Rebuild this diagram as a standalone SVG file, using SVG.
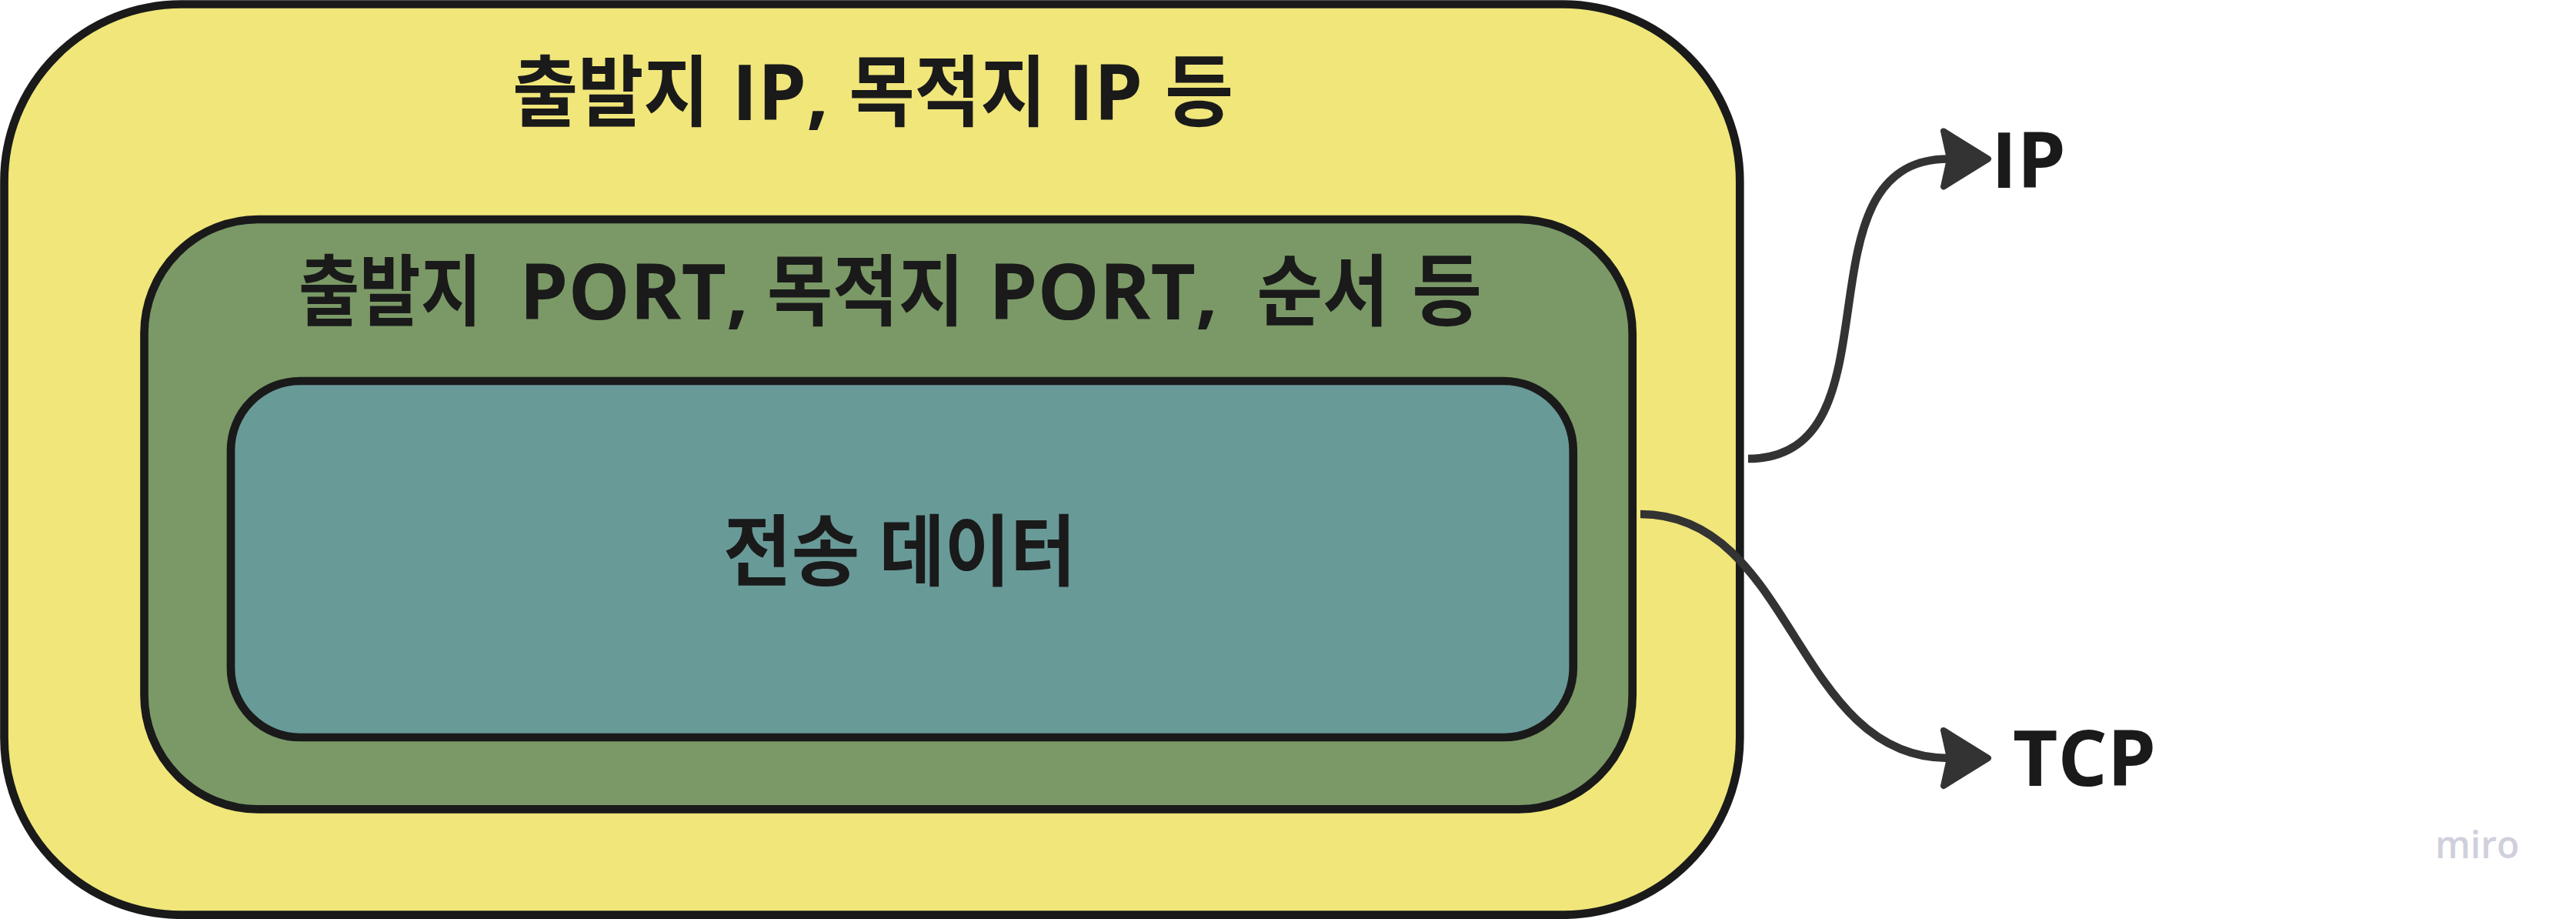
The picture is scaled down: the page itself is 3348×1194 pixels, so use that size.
<svg xmlns="http://www.w3.org/2000/svg" width="3348" height="1194" viewBox="0 0 3348 1194">
<defs>
<style>
.box{stroke:#1a1a1a;stroke-width:10.7}
.t{font-family:'Open Sans','Noto Sans CJK KR',sans-serif;font-weight:700;font-size:101px;fill:#1a1a1a}
.conn{fill:none;stroke:#333333;stroke-width:10.7}
.wm{font-family:'Open Sans','Noto Sans',sans-serif;font-weight:600;font-size:48px;fill:#d0cfdc}
</style>
<marker id="ah" markerUnits="userSpaceOnUse" orient="auto" overflow="visible" refX="0" refY="0" markerWidth="1" markerHeight="1">
<path d="M-6,-36 L52,0 L-6,36 L2,0 Z" fill="#333333" stroke="#333333" stroke-width="8" stroke-linejoin="round"/>
</marker>
</defs>
<g id="node-ip-header">
<rect class="box" x="5.5" y="5.5" width="2255.8" height="1183.2" rx="230" fill="#f0e67a"/>
<text class="t" y="156"><tspan x="666" textLength="255.5" lengthAdjust="spacingAndGlyphs">출발지</tspan> <tspan x="951.3">IP,</tspan> <tspan x="1103.5" textLength="256" lengthAdjust="spacingAndGlyphs">목적지</tspan> <tspan x="1388.3">IP</tspan> <tspan x="1514" textLength="89" lengthAdjust="spacingAndGlyphs">등</tspan></text>
</g>
<g id="node-tcp-header">
<rect class="box" x="187.5" y="285" width="1934.2" height="766.3" rx="148" fill="#7a9966"/>
<text class="t" y="415"><tspan x="388" textLength="238" lengthAdjust="spacingAndGlyphs">출발지</tspan> <tspan x="675">PORT,</tspan> <tspan x="997" textLength="256" lengthAdjust="spacingAndGlyphs">목적지</tspan> <tspan x="1285">PORT,</tspan> <tspan x="1633.6" textLength="171.4" lengthAdjust="spacingAndGlyphs">순서</tspan> <tspan x="1835" textLength="91" lengthAdjust="spacingAndGlyphs">등</tspan></text>
</g>
<g id="node-data">
<rect class="box" x="300" y="495" width="1744.7" height="463" rx="90" fill="#689a98"/>
<text class="t" y="752.5"><tspan x="940" textLength="177.3" lengthAdjust="spacingAndGlyphs">전송</tspan> <tspan x="1142.7" textLength="255.3" lengthAdjust="spacingAndGlyphs">데이터</tspan></text>
</g>
<g id="node-ip-label">
<text class="t" x="2588" y="244">IP</text>
</g>
<g id="node-tcp-label">
<text class="t" x="2616" y="1021">TCP</text>
</g>
<g id="connectors">
<path class="conn" d="M2272,596 C2477,596 2327,206.5 2532,206.5" marker-end="url(#ah)"/>
<path class="conn" d="M2132,668 C2332,668 2332,985 2532,985" marker-end="url(#ah)"/>
</g>
<g id="watermark">
<text class="wm" x="3165" y="1115">miro</text>
</g>
</svg>
